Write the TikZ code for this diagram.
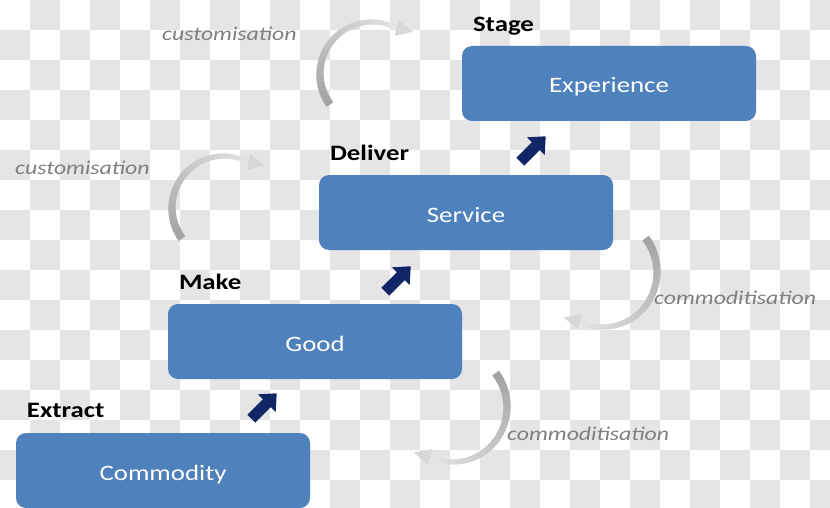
\documentclass[tikz,border=0pt]{standalone}
\usepackage{fontspec}
\setmainfont{Carlito}[FakeStretch=1.22]
\usetikzlibrary{calc}
\definecolor{boxblue}{HTML}{4F81BD}
\definecolor{navy}{RGB}{16,38,102}
\definecolor{checkgray}{HTML}{E5E5E5}
\definecolor{labgray}{HTML}{7F7F7F}
\definecolor{arcdark}{HTML}{A2A2A2}
\definecolor{arclight}{HTML}{E4E4E4}

% gradient curved arrow: cx, cy, rx, ry, t start, t end, head direction
\newcommand{\grayarc}[7]{%
  \foreach \gk in {0,...,39}{%
    \pgfmathsetmacro{\gta}{#5+(#6-#5)*\gk/40}%
    \pgfmathsetmacro{\gtm}{#5+(#6-#5)*(\gk+0.5)/40}%
    \pgfmathsetmacro{\gtb}{#5+(#6-#5)*min(\gk+1.3,40)/40}%
    \pgfmathtruncatemacro{\gmx}{100-100*\gk/39}%
    \pgfmathsetmacro{\glw}{8-3.5*\gk/39}%
    \draw[line width=\glw pt, arcdark!\gmx!arclight]
      ({#1+#3*cos(\gta)},{#2-#4*sin(\gta)}) --
      ({#1+#3*cos(\gtm)},{#2-#4*sin(\gtm)}) --
      ({#1+#3*cos(\gtb)},{#2-#4*sin(\gtb)});
  }%
  \pgfmathsetmacro{\gpx}{#1+#3*cos(#6)}%
  \pgfmathsetmacro{\gpy}{#2-#4*sin(#6)}%
  \fill[arclight!80!arcdark]
    ({\gpx+17*cos(#7)},{\gpy+17*sin(#7)}) --
    ({\gpx-8*sin(#7)},{\gpy+8*cos(#7)}) --
    ({\gpx+8*sin(#7)},{\gpy-8*cos(#7)}) -- cycle;
}

% navy block arrow pointing up-right, centred at #1
\newcommand{\blockarrow}[1]{%
  \fill[navy, shift={#1}, rotate=45]
    (-18,-5.5) -- (4,-5.5) -- (4,-12.5) -- (18,0) -- (4,12.5) -- (4,5.5) -- (-18,5.5) -- cycle;
}

\tikzset{
  box/.style={rectangle, rounded corners=10pt, fill=boxblue, draw=none,
    minimum width=294pt, minimum height=75pt, inner sep=0pt, text=white,
    font=\fontsize{22}{26}\selectfont, text height=20pt, text depth=1pt},
  stagelabel/.style={anchor=base west, inner sep=0pt,
    font=\bfseries\fontsize{22}{26}\selectfont},
  proclabel/.style={anchor=base west, inner sep=0pt, text=labgray,
    font=\itshape\fontsize{19.5}{24}\selectfont}
}

\begin{document}
\begin{tikzpicture}[x=1pt, y=-1pt]
\useasboundingbox (0,0) rectangle (830,508);
% transparency checkerboard
\begin{scope}
  \clip (0,0) rectangle (830,508);
  \fill[white] (0,0) rectangle (830,508);
  \foreach \ci in {0,...,27}{%
    \foreach \cj in {0,...,16}{%
      \pgfmathtruncatemacro{\chk}{mod(\ci+\cj,2)}%
      \ifnum\chk=1 \fill[checkgray] (\ci*30,\cj*30) rectangle ++(30,30);\fi
    }%
  }
\end{scope}

% curved gray arrows
\grayarc{372}{74}{52}{52}{216}{62}{12}
\grayarc{224}{208}{52}{52}{216}{62}{12}
\grayarc{603}{272}{54}{55}{38}{-115}{195}
\grayarc{453}{407}{54}{55}{38}{-115}{195}

% boxes
\node[box] (exp)  at (609,83.5)  {Experience};
\node[box] (svc)  at (466,212.5) {Service};
\node[box] (good) at (315,341.5) {Good};
\node[box] (com)  at (163,470.5) {Commodity};

% stage labels
\node[stagelabel] (lstage)   at ($(exp.north west)+(11,-14)$)  {Stage};
\node[stagelabel] (ldeliver) at ($(svc.north west)+(11,-14)$)  {Deliver};
\node[stagelabel] (lmake)    at ($(good.north west)+(11,-14)$) {Make};
\node[stagelabel] (lextract) at ($(com.north west)+(11,-15)$)  {Extract};

% process labels
\node[proclabel] (cust1) at (162,41)  {customisation};
\node[proclabel] (cust2) at (15,175)  {customisation};
\node[proclabel] (comm1) at (654,304) {commoditisation};
\node[proclabel] (comm2) at (507,440) {commoditisation};

% block arrows between stages
\coordinate (a1) at (264,406);
\coordinate (a2) at (398,279);
\coordinate (a3) at (533,149);
\blockarrow{(a1)}
\blockarrow{(a2)}
\blockarrow{(a3)}
\end{tikzpicture}
\end{document}
